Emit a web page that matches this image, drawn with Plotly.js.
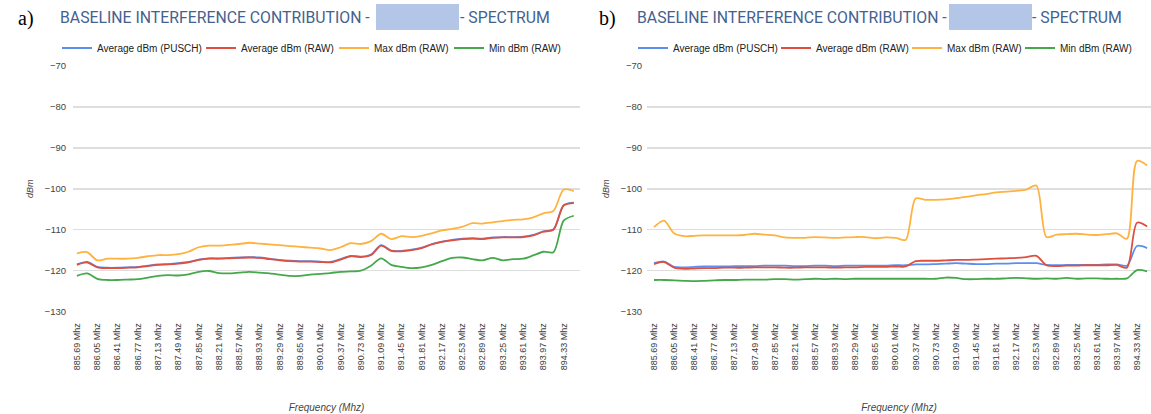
<!DOCTYPE html>
<html>
<head>
<meta charset="utf-8">
<script src="https://cdn.plot.ly/plotly-3.0.1.min.js"></script>
<style>
  html, body { margin: 0; padding: 0; background: #ffffff; }
  #chart { width: 1151px; height: 414px; }
</style>
</head>
<body>
<div id="chart"></div>
<script>
// ---------- DATA ----------
const freqs = [885.69, 885.87, 886.05, 886.23, 886.41, 886.59, 886.77, 886.95, 887.13, 887.31,
               887.49, 887.67, 887.85, 888.03, 888.21, 888.39, 888.57, 888.75, 888.93, 889.11,
               889.29, 889.47, 889.65, 889.83, 890.01, 890.19, 890.37, 890.55, 890.73, 890.91,
               891.09, 891.27, 891.45, 891.63, 891.81, 891.99, 892.17, 892.35, 892.53, 892.71,
               892.89, 893.07, 893.25, 893.43, 893.61, 893.79, 893.97, 894.15, 894.33, 894.51];

const tickFreqs = [885.69, 886.05, 886.41, 886.77, 887.13, 887.49, 887.85, 888.21, 888.57, 888.93,
                   889.29, 889.65, 890.01, 890.37, 890.73, 891.09, 891.45, 891.81, 892.17, 892.53,
                   892.89, 893.25, 893.61, 893.97, 894.33];
const tickLabels = ["885.69 Mhz", "886.05 Mhz", "886.41 Mhz", "886.77 Mhz", "887.13 Mhz", "887.49 Mhz",
                    "887.85 Mhz", "888.21 Mhz", "888.57 Mhz", "888.93 Mhz", "889.29 Mhz", "889.65 Mhz",
                    "890.01 Mhz", "890.37 Mhz", "890.73 Mhz", "891.09 Mhz", "891.45 Mhz", "891.81 Mhz",
                    "892.17 Mhz", "892.53 Mhz", "892.89 Mhz", "893.25 Mhz", "893.61 Mhz", "893.97 Mhz",
                    "894.33 Mhz"];

const seriesNames = ["Average dBm (PUSCH)", "Average dBm (RAW)", "Max dBm (RAW)", "Min dBm (RAW)"];

// Panel a)
const aAvgPusch = [-118.5, -117.9, -119.1, -119.3, -119.3, -119.2, -119.1, -118.8, -118.5, -118.4,
                   -118.2, -117.9, -117.3, -117.0, -117.0, -116.9, -116.8, -116.7, -116.8, -117.1,
                   -117.4, -117.6, -117.7, -117.7, -117.8, -117.9, -117.2, -116.4, -116.6, -116.1,
                   -113.8, -115.1, -115.2, -114.9, -114.4, -113.5, -112.9, -112.5, -112.2, -112.1,
                   -112.2, -111.9, -111.8, -111.8, -111.7, -111.3, -110.4, -109.9, -104.0, -103.4];
const aAvgRaw   = [-118.6, -118.0, -119.2, -119.4, -119.4, -119.3, -119.2, -118.9, -118.6, -118.5,
                   -118.3, -118.0, -117.4, -117.1, -117.1, -117.0, -116.9, -116.8, -116.9, -117.2,
                   -117.5, -117.7, -117.8, -117.8, -117.9, -118.0, -117.3, -116.5, -116.7, -116.2,
                   -113.9, -115.2, -115.3, -115.0, -114.5, -113.6, -113.0, -112.6, -112.3, -112.2,
                   -112.3, -112.0, -111.9, -111.9, -111.8, -111.4, -110.5, -110.0, -104.1, -103.5];
const aMaxRaw   = [-115.8, -115.5, -117.5, -117.1, -117.1, -117.1, -116.9, -116.5, -116.2, -116.2,
                   -116.0, -115.4, -114.3, -113.9, -113.9, -113.7, -113.5, -113.2, -113.4, -113.6,
                   -113.8, -114.0, -114.2, -114.4, -114.6, -115.0, -114.3, -113.3, -113.5, -112.8,
                   -111.0, -112.3, -111.6, -111.8, -111.5, -110.9, -110.2, -109.8, -109.3, -108.4,
                   -108.5, -108.2, -107.9, -107.6, -107.5, -107.0, -106.0, -105.4, -100.2, -100.6];
const aMinRaw   = [-121.3, -120.7, -122.0, -122.3, -122.3, -122.2, -122.1, -121.7, -121.3, -121.1,
                   -121.2, -120.9, -120.3, -120.1, -120.6, -120.7, -120.5, -120.3, -120.5, -120.7,
                   -121.0, -121.3, -121.3, -121.0, -120.8, -120.6, -120.3, -120.2, -120.0, -118.8,
                   -117.0, -118.6, -119.1, -119.4, -119.2, -118.6, -117.7, -116.9, -116.8, -117.2,
                   -117.5, -116.9, -117.5, -117.2, -117.1, -116.3, -115.4, -115.5, -107.8, -106.6];

// Panel b)
const bAvgPusch = [-118.2, -117.8, -119.1, -119.2, -119.1, -119.0, -119.0, -119.0, -118.9, -118.9,
                   -118.9, -118.8, -118.8, -118.8, -118.9, -118.9, -118.8, -118.8, -118.9, -118.8,
                   -118.8, -118.8, -118.8, -118.8, -118.7, -118.7, -118.5, -118.5, -118.4, -118.3,
                   -118.2, -118.3, -118.4, -118.4, -118.3, -118.3, -118.2, -118.2, -118.2, -118.6,
                   -118.7, -118.6, -118.6, -118.6, -118.6, -118.5, -118.5, -118.8, -114.0, -114.5];
const bAvgRaw   = [-118.4, -117.9, -119.3, -119.6, -119.5, -119.4, -119.4, -119.3, -119.3, -119.3,
                   -119.2, -119.2, -119.2, -119.3, -119.3, -119.2, -119.2, -119.2, -119.3, -119.2,
                   -119.2, -119.1, -119.1, -119.1, -119.0, -119.0, -117.7, -117.6, -117.6, -117.5,
                   -117.4, -117.4, -117.3, -117.2, -117.1, -117.0, -116.9, -116.7, -116.4, -118.7,
                   -118.9, -118.8, -118.8, -118.7, -118.7, -118.7, -118.6, -119.3, -108.3, -109.2];
const bMaxRaw   = [-109.4, -107.8, -110.9, -111.6, -111.5, -111.4, -111.4, -111.4, -111.4, -111.3,
                   -111.0, -111.2, -111.4, -111.9, -112.0, -112.0, -111.8, -111.9, -112.0, -111.9,
                   -111.8, -111.8, -112.1, -111.9, -112.0, -112.5, -102.4, -102.7, -102.7, -102.6,
                   -102.3, -102.0, -101.6, -101.3, -100.9, -100.7, -100.5, -100.2, -99.2, -111.8,
                   -111.2, -111.1, -111.0, -111.2, -111.3, -111.1, -110.9, -112.2, -93.2, -94.3];
const bMinRaw   = [-122.3, -122.3, -122.4, -122.5, -122.6, -122.5, -122.4, -122.3, -122.3, -122.2,
                   -122.2, -122.2, -122.1, -122.1, -122.2, -122.1, -122.0, -122.1, -122.0, -122.1,
                   -122.0, -122.0, -122.0, -122.0, -122.0, -122.0, -122.0, -122.0, -122.0, -121.7,
                   -121.8, -122.1, -122.1, -122.0, -122.0, -121.9, -121.8, -121.9, -122.0, -121.9,
                   -122.0, -121.8, -122.0, -121.9, -121.9, -122.0, -122.0, -121.9, -119.9, -120.2];

const colors = ["#5a8ff0", "#de4f3f", "#ffb240", "#45a84b"];

// ---------- LAYOUT HELPERS ----------
const W = 1151, H = 414;
const fx = p => p / W;
const fy = p => 1 - p / H;

const panelA = [aAvgPusch, aAvgRaw, aMaxRaw, aMinRaw];
const panelB = [bAvgPusch, bAvgRaw, bMaxRaw, bMinRaw];

// one single-entry legend per series so each entry sits where the reference shows it
const legendTextA = [97, 241, 374, 489];
const legendTextB = [673, 816, 947, 1060];
const sansFont = "Arial, 'Liberation Sans', sans-serif";

function legendAt(textX) {
  return {
    orientation: "h", x: fx(textX - 40), y: fy(48), xanchor: "left", yanchor: "middle",
    font: { family: sansFont, size: 10, color: "#222" },
    bgcolor: "rgba(0,0,0,0)", borderwidth: 0,
    itemclick: false, itemdoubleclick: false
  };
}

const traces = [];
const layoutLegends = {};
panelA.forEach((ys, i) => {
  const key = i === 0 ? "legend" : "legend" + (i + 1);
  layoutLegends[key] = legendAt(legendTextA[i]);
  traces.push({
    type: "scatter", mode: "lines", x: freqs, y: ys, name: seriesNames[i],
    line: { color: colors[i], width: 1.8, shape: "spline", smoothing: 0.8 },
    xaxis: "x", yaxis: "y", legend: key
  });
});
panelB.forEach((ys, i) => {
  const key = "legend" + (i + 5);
  layoutLegends[key] = legendAt(legendTextB[i]);
  traces.push({
    type: "scatter", mode: "lines", x: freqs, y: ys, name: seriesNames[i],
    line: { color: colors[i], width: 1.8, shape: "spline", smoothing: 0.8 },
    xaxis: "x2", yaxis: "y2", legend: key
  });
});

function xAxis(domain, range, anchor) {
  return {
    domain: domain, range: range, anchor: anchor, automargin: false,
    tickmode: "array", tickvals: tickFreqs, ticktext: tickLabels,
    tickangle: -90, ticks: "", ticklabelstandoff: 9,
    tickfont: { family: sansFont, size: 9, color: "#3a3a3a" },
    showgrid: false, zeroline: false, showline: false,
    title: { text: "Frequency (Mhz)", standoff: 34,
             font: { family: sansFont, size: 10, color: "#444", style: "italic" } }
  };
}
function yAxis(anchor, standoff) {
  return {
    domain: [1 - 311.5 / H, 1 - 66 / H], range: [-130, -70], anchor: anchor, automargin: false,
    tickmode: "array", tickvals: [-130, -120, -110, -100, -90, -80, -70],
    ticks: "", ticklabelstandoff: standoff,
    tickfont: { family: sansFont, size: 9.5, color: "#444" },
    showgrid: true, gridcolor: "#dedede", gridwidth: 1.5,
    zeroline: false, showline: false,
    title: { text: "dBm", standoff: 9,
             font: { family: sansFont, size: 9, color: "#444", style: "italic" } }
  };
}

const titleFont = { family: "Roboto, 'Open Sans', sans-serif", size: 15.8, color: "#45628e" };
const labelFont = { family: "'Liberation Serif', 'Times New Roman', serif", size: 20, color: "#000" };

function panelTitle(x0, boxX0, boxX1, x1, labelX, labelText) {
  return {
    annotations: [
      { text: labelText, xref: "paper", yref: "paper", x: fx(labelX), y: fy(19),
        xanchor: "center", yanchor: "middle", showarrow: false, font: labelFont },
      { text: "BASELINE INTERFERENCE CONTRIBUTION -", xref: "paper", yref: "paper",
        x: fx(x0), y: fy(18), xanchor: "left", yanchor: "middle", showarrow: false, font: titleFont },
      { text: "- SPECTRUM", xref: "paper", yref: "paper",
        x: fx(x1), y: fy(18), xanchor: "left", yanchor: "middle", showarrow: false, font: titleFont }
    ],
    shapes: [
      { type: "rect", xref: "paper", yref: "paper", x0: fx(boxX0), x1: fx(boxX1),
        y0: fy(30), y1: fy(4), fillcolor: "#b4c6e7", line: { width: 0 }, layer: "above" }
    ]
  };
}

const tA = panelTitle(58, 376, 459, 458, 26, "a)");
const tB = panelTitle(635, 949, 1032, 1030, 607, "b)");

const layout = Object.assign({
  width: W, height: H,
  margin: { l: 0, r: 0, t: 0, b: 0, pad: 0 },
  paper_bgcolor: "#ffffff", plot_bgcolor: "#ffffff",
  showlegend: true,
  xaxis: xAxis([73 / W, 580 / W], [885.62, 894.62], "y"),
  yaxis: yAxis("x", 6),
  xaxis2: xAxis([647 / W, 1], [885.565, 894.58], "y2"),
  yaxis2: yAxis("x2", 4),
  annotations: tA.annotations.concat(tB.annotations),
  shapes: tA.shapes.concat(tB.shapes)
}, layoutLegends);

Plotly.newPlot("chart", traces, layout, { staticPlot: true, displayModeBar: false });
</script>
</body>
</html>
